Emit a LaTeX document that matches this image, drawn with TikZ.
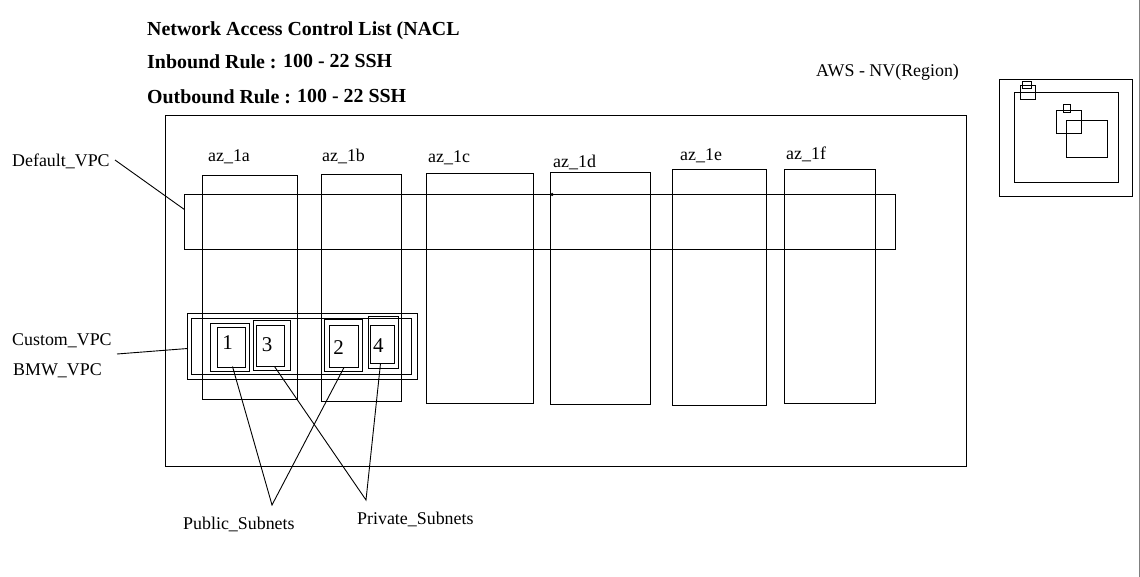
\documentclass[tikz,border=0pt]{standalone}
\usepackage{fontspec}
\setmainfont{Liberation Serif}
\usepackage{tikz}
\tikzset{
  lbl/.style={inner sep=0pt, anchor=base west, yshift=-1.5pt, font=\fontsize{17.9}{18}\selectfont},
  head/.style={inner sep=0pt, anchor=base west, yshift=-1.5pt, font=\fontsize{19.9}{20}\selectfont\bfseries},
  num/.style={inner sep=0pt, font=\fontsize{21}{21}\selectfont},
  conn/.style={draw=black, line width=0.9pt}
}
% box by its two corners
\newcommand{\bx}[5]{\node[draw=black, line width=0.9pt, inner sep=0pt, outer sep=0pt, anchor=north west, minimum width={#4-#2}, minimum height={#5-#3}] (#1) at (#2,#3) {};}
\begin{document}
\begin{tikzpicture}[x=1pt, y=-1pt]
  \useasboundingbox (0,0) rectangle (1140,577);
  \draw[gray, line width=1.2pt] (1139.4,0) -- (1139.4,577);

  \node[head] (title) at (147,34) {Network Access Control List (NACL};
  \node[head] (inrule) at (147,67) {Inbound Rule :};
  \node[head] (inval) at (283,66) {100 - 22 SSH};
  \node[head] (outrule) at (147,102) {Outbound Rule :};
  \node[head] (outval) at (297,101.5) {100 - 22 SSH};
  \node[lbl] (aws) at (816,75) {AWS - NV(Region)};

  % region
  \bx{region}{165.5}{115.5}{966.5}{466.5}

  % zones
  \foreach \n/\xa/\ya/\xb/\yb/\tx/\ty in {
    a/202.5/175.5/297.5/399.5/208/160,
    b/321.5/174.5/401.5/401.5/322/160,
    c/426.5/173.5/533.5/403.5/428/161,
    d/550.5/172.5/650.5/404.5/553/166,
    e/672.5/169.5/766.5/405.5/680/159,
    f/784.5/169.5/875.5/403.5/786/158} {
    \bx{az\n}{\xa}{\ya}{\xb}{\yb}
    \node[lbl] (azlbl\n) at (\tx,\ty) {az\_1\n};
  }

  \bx{defvpc}{184.5}{194.5}{895.5}{249.5}
  \node[circle, fill=black, inner sep=0pt, minimum size=3.5pt] (tick) at (552,194.5) {};

  \bx{cusouter}{187.5}{313.5}{417.5}{379.5}
  \bx{cusinner}{191.5}{318.5}{411.5}{374.5}

  % subnets
  \foreach \n/\xa/\ya/\xb/\yb/\xc/\yc/\xd/\yd in {
    1/210.5/323.5/249.5/371.5/217.5/327.5/245.5/367.5,
    3/253.5/320.5/290.5/370.5/256.5/325.5/284.5/366.5,
    2/324.5/319.5/362.5/371.5/329.5/325.5/358.5/367.5,
    4/368.5/316.5/398.5/368.5/370.5/325.5/394.5/363.5} {
    \bx{subo\n}{\xa}{\ya}{\xb}{\yb}
    \bx{sub\n}{\xc}{\yc}{\xd}{\yd}
  }
  \node[num] (n1) at (227.7,343) {1};
  \node[num] (n3) at (267,345) {3};
  \node[num] (n2) at (338.7,347.5) {2};
  \node[num] (n4) at (378.3,346) {4};

  % small map
  \bx{mapa}{999.5}{79.5}{1132.5}{196.5}
  \bx{mapb}{1014.5}{92.5}{1118.5}{182.5}
  \bx{mapc}{1020.5}{85.5}{1035.5}{99.5}
  \bx{mapd}{1022.5}{81.5}{1031.5}{88.5}
  \bx{mape}{1056.5}{110.5}{1081.5}{133.5}
  \bx{mapf}{1063.5}{104.5}{1070.5}{112.5}
  \bx{mapg}{1066.5}{120.5}{1107.5}{157.5}

  \node[lbl] (defl) at (12,165) {Default\_VPC};
  \node[lbl] (cusl) at (12,344) {Custom\_VPC};
  \node[lbl] (bmwl) at (13,374) {BMW\_VPC};
  \node[lbl] (publ) at (183,528) {Public\_Subnets};
  \node[lbl] (pril) at (357,522.5) {Private\_Subnets};

  \coordinate (defs) at (115,160);
  \coordinate (cuss) at (117,354);
  \coordinate (pubj) at (272,505);
  \coordinate (prij) at (366,500);
  \draw[conn] (defs) -- (defvpc.178.4);
  \draw[conn] (cuss) -- (cusouter.181);
  \draw[conn] (sub1.south) ++(1,-1) -- (pubj) -- (sub2.south);
  \draw[conn] (sub3.south) ++(4,0) -- (prij) -- ([xshift=-2pt]sub4.south);
\end{tikzpicture}
\end{document}
